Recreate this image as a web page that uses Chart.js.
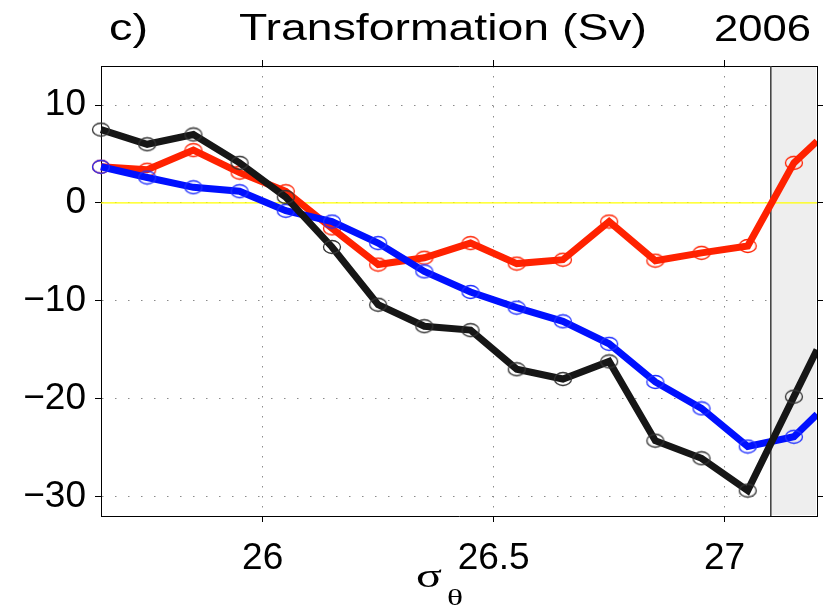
<!DOCTYPE html>
<html>
<head>
<meta charset="utf-8">
<script src="https://cdn.jsdelivr.net/npm/chart.js@4.4.1/dist/chart.umd.min.js"></script>
<style>
  html, body { margin: 0; padding: 0; background: #fff; overflow: hidden; }
</style>
</head>
<body>
<!-- 8px wider than the page: the layout leaves a gutter on the right that falls off-screen -->
<canvas id="transformation_chart" width="831" height="606"></canvas>
<script>
// density classes (sigma-theta) and transformation rates in Sv
const sigma = [25.65, 25.75, 25.85, 25.95, 26.05, 26.15, 26.25, 26.35, 26.45, 26.55, 26.65, 26.75, 26.85, 26.95, 27.05, 27.15, 27.2];
const total = [7.5, 6.0, 7.0, 4.1, 0.6, -4.5, -10.4, -12.6, -13.0, -17.0, -18.0, -16.2, -24.3, -26.1, -29.4, -19.8, -15.0];
const heat  = [3.7, 3.4, 5.4, 3.1, 1.2, -2.6, -6.3, -5.6, -4.1, -6.2, -5.8, -1.9, -5.9, -5.1, -4.4, 4.1, 6.3];
const fresh = [3.7, 2.6, 1.6, 1.2, -0.8, -1.9, -4.1, -7.0, -9.1, -10.7, -12.1, -14.4, -18.3, -21.0, -24.9, -23.9, -21.6];

const x_ticks = [26, 26.5, 27];
const y_ticks = [-30, -20, -10, 0, 10];
const x_min = 25.65, x_max = 27.2;
const y_min = -32, y_max = 14;
const shade_from = 27.1;   // outcropping classes, greyed out

const sans = "'Liberation Sans', Arial, Helvetica, sans-serif";
const serif = "'Liberation Serif', 'Times New Roman', serif";

// hollow ellipse marker (circles come out a bit wide in this figure)
function ring(color) {
  const c = document.createElement('canvas');
  c.width = 20; c.height = 16;
  const g = c.getContext('2d');
  g.strokeStyle = color;
  g.lineWidth = 1.3;
  g.beginPath();
  g.ellipse(10, 8, 8.5, 6.5, 0, 0, 2 * Math.PI);
  g.stroke();
  return c;
}

function series(label, values, color, ring_color, order) {
  return {
    label: label,
    order: order,
    data: sigma.map((s, i) => ({x: s, y: values[i]})),
    borderColor: color,
    borderWidth: 7,
    tension: 0,
    borderJoinStyle: 'miter',
    borderCapStyle: 'butt',
    pointStyle: ring(ring_color),
    pointRadius: (c) => (c.raw && c.raw.x < x_max ? 7 : 0),
    pointHoverRadius: 0,
    clip: {left: 12, top: 0, right: 0, bottom: 0}
  };
}

function tick_label(v) {
  return String(v).replace('-', '\u2212');
}

// stretch text sideways so it spans a given width
function wide_text(ctx, txt, left, baseline, font, width) {
  ctx.font = font;
  const w = ctx.measureText(txt).width;
  ctx.save();
  ctx.translate(left, baseline);
  ctx.scale(width / w, 1);
  ctx.fillText(txt, 0, 0);
  ctx.restore();
}

const figure_plugin = {
  id: 'figure_plugin',
  beforeDatasetsDraw(chart) {
    const {ctx, chartArea: a} = chart;
    const xs = chart.scales.x.getPixelForValue(shade_from);
    ctx.save();
    ctx.fillStyle = '#eeeeee';
    ctx.fillRect(xs, a.top + 1, a.right - xs - 1, a.bottom - a.top - 2);
    ctx.strokeStyle = '#3c3c3c';
    ctx.lineWidth = 1.5;
    ctx.beginPath();
    ctx.moveTo(xs, a.top);
    ctx.lineTo(xs, a.bottom);
    ctx.stroke();
    ctx.restore();
  },
  afterDraw(chart) {
    const ctx = chart.ctx;
    ctx.save();
    ctx.fillStyle = '#000';
    ctx.textAlign = 'left';
    ctx.textBaseline = 'alphabetic';
    wide_text(ctx, 'c)', 109, 40, '37px ' + sans, 39);
    wide_text(ctx, 'Transformation (Sv)', 239, 40, '37px ' + sans, 408);
    wide_text(ctx, '2006', 714, 41, '37px ' + sans, 97);
    // sigma_theta axis label
    wide_text(ctx, '\u03c3', 416, 587, '34px ' + serif, 26);
    wide_text(ctx, '\u03b8', 447, 605, '24px ' + serif, 16);
    ctx.restore();
  }
};

const data = {
  datasets: [
    {
      label: 'zero',
      order: 10,
      data: [{x: x_min, y: 0}, {x: x_max, y: 0}],
      borderColor: '#ffff00',
      borderWidth: 1.2,
      pointRadius: 0
    },
    series('heat', heat, '#ff2200', '#ff2200', 3),
    series('fresh', fresh, '#0010ff', '#2030ff', 2),
    series('total', total, '#161616', '#333333', 1)
  ]
};

const set_x_ticks = (s) => { s.ticks = x_ticks.map(v => ({value: v})); };
const set_y_ticks = (s) => { s.ticks = y_ticks.map(v => ({value: v})); };

const fix_height = (h) => (s) => { s.height = h; };
const fix_width = (w) => (s) => { s.width = w; };

const config = {
  type: 'line',
  data,
  options: {
    responsive: false,
    animation: false,
    devicePixelRatio: 1,
    layout: {padding: {top: 60, left: 0, right: 0, bottom: 0}},
    plugins: {
      legend: {display: false},
      tooltip: {enabled: false}
    },
    events: [],
    scales: {
      x: {
        type: 'linear', position: 'bottom', min: x_min, max: x_max,
        afterBuildTicks: set_x_ticks,
        afterFit: fix_height(90),
        ticks: {color: '#000', font: {family: sans, size: 37}, padding: 15, maxRotation: 0, autoSkip: false, callback: tick_label},
        grid: {color: '#8a8a8a', lineWidth: 1, tickLength: 6, tickColor: '#000', tickWidth: 1, tickBorderDash: []},
        border: {color: '#000', width: 1, dash: [1.5, 8.5]}
      },
      x_top: {
        type: 'linear', position: 'top', min: x_min, max: x_max,
        afterBuildTicks: set_x_ticks,
        afterFit: fix_height(6),
        ticks: {display: false},
        grid: {drawOnChartArea: false, tickLength: 6, tickColor: '#000', tickWidth: 1, tickBorderDash: []},
        border: {color: '#000', width: 1}
      },
      y: {
        type: 'linear', position: 'left', min: y_min, max: y_max,
        afterBuildTicks: set_y_ticks,
        afterFit: fix_width(101),
        ticks: {color: '#000', font: {family: sans, size: 37}, padding: 9, callback: tick_label},
        grid: {color: '#8a8a8a', lineWidth: 1, tickLength: 6, tickColor: '#000', tickWidth: 1, tickBorderDash: []},
        border: {color: '#000', width: 1, dash: [1.5, 11.5]}
      },
      y_right: {
        type: 'linear', position: 'right', min: y_min, max: y_max,
        afterBuildTicks: set_y_ticks,
        afterFit: fix_width(6),
        ticks: {display: false},
        grid: {drawOnChartArea: false, tickLength: 6, tickColor: '#000', tickWidth: 1, tickBorderDash: []},
        border: {color: '#000', width: 1}
      }
    }
  },
  plugins: [figure_plugin]
};

const transformation_chart = new Chart(document.getElementById('transformation_chart'), config);
</script>
</body>
</html>
